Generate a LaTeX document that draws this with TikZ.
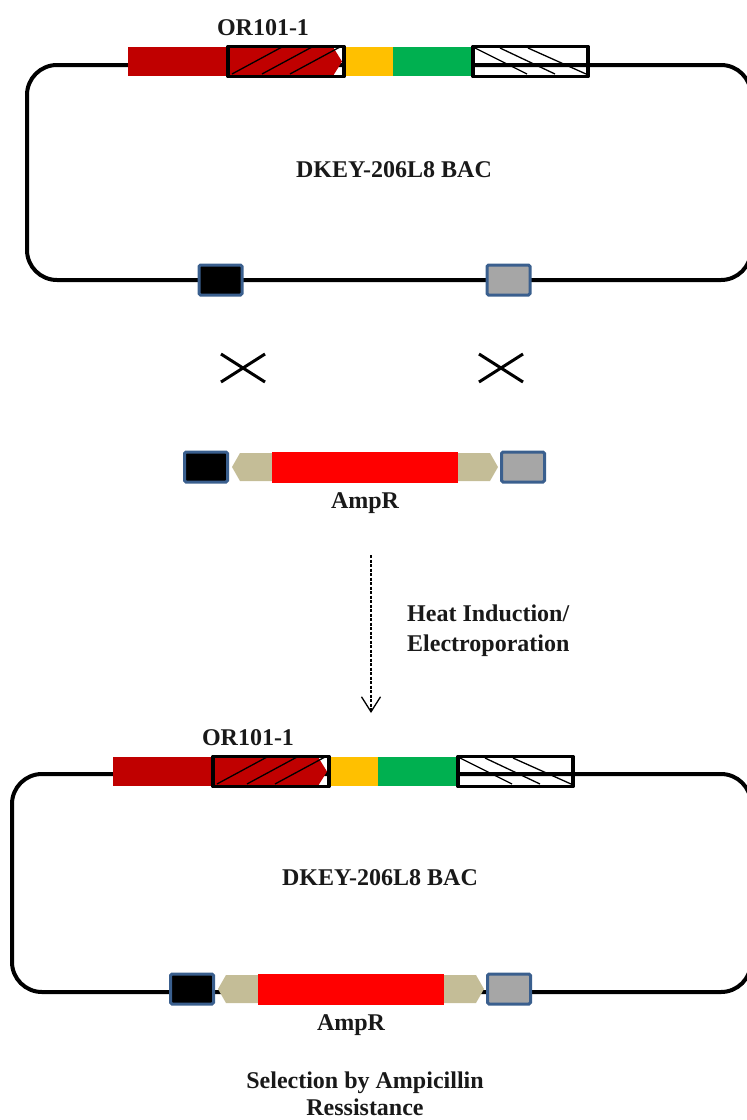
\documentclass[tikz,border=0pt]{standalone}
\usepackage{fontspec}
\setmainfont{Liberation Serif}
\usetikzlibrary{arrows.meta}
\definecolor{dred}{HTML}{C00000}
\definecolor{yel}{HTML}{FFC000}
\definecolor{grn}{HTML}{00B050}
\definecolor{ampred}{HTML}{FF0000}
\definecolor{tan}{HTML}{C4BD97}
\definecolor{sgray}{HTML}{A6A6A6}
\definecolor{sqblue}{HTML}{3A5F8E}
\tikzset{
  lbl/.style={font=\bfseries\fontsize{24}{30}\selectfont, inner sep=0pt, text=black!90},
  bacloop/.style={line width=4pt, rounded corners=30pt},
  boxline/.style={draw=black, line width=3.5pt, line join=round, inner sep=0pt},
  sq/.style={draw=sqblue, line width=3pt, rounded corners=1.5pt, minimum width=43pt, minimum height=30pt, inner sep=0pt},
  hatchline/.style={line width=1.3pt},
  xline/.style={line width=3pt},
}
\newcommand\orstrip[3]{%
\begin{scope}[shift={(#2,#3)}]
  \fill[dred] (0,0) rectangle (100,29);
  \fill[dred] (100,0) -- (205,0) -- (214,14.5) -- (205,29) -- (100,29) -- cycle;
  \draw[hatchline] (104,27) -- (154,0);
  \draw[hatchline] (134,27) -- (184,0);
  \draw[hatchline] (162,27) -- (212,0);
  \fill[yel] (216,0) rectangle (265,29);
  \fill[grn] (265,0) rectangle (345,29);
  \draw[hatchline] (347,1) -- (399,27);
  \draw[hatchline] (372,1) -- (427,27);
  \draw[hatchline] (400,1) -- (458,27);
  \node[boxline, minimum width=116pt, minimum height=30pt] (#1box) at (158,14.5) {};
  \node[boxline, minimum width=115pt, minimum height=30pt] (#1wbox) at (402.5,14.5) {};
  \node[lbl] (#1lab) at (135,-19) {OR101-1};
\end{scope}}
\newcommand\cassette[3]{%
\begin{scope}[shift={(#2,#3)}]
  \fill[tan] (89,-14) -- (57,-14) -- (49,0) -- (57,14) -- (89,14) -- cycle;
  \fill[ampred] (89,-15.5) rectangle (275,15.5);
  \fill[tan] (275,-14) -- (307,-14) -- (315,0) -- (307,14) -- (275,14) -- cycle;
  \node[sq, fill=black] (#1blk) at (23,0) {};
  \node[sq, fill=sgray] (#1gry) at (340,0) {};
  \node[lbl] (#1amp) at (182,36) {AmpR};
\end{scope}}
\begin{document}
\begin{tikzpicture}[x=1pt,y=-1pt]
\useasboundingbox (0,0) rectangle (747,1120);
\clip (0,0) rectangle (747,1120);
% top BAC
\draw[bacloop] (27,65) rectangle (751,280);
\orstrip{t}{128}{47}
\node[lbl] (tbac) at (394,170) {DKEY-206L8 BAC};
\node[sq, fill=black] (tm1) at (220.5,280) {};
\node[sq, fill=sgray] (tm2) at (508.5,280) {};
% crossover marks
\coordinate (x1a) at (221,354); \coordinate (x1b) at (265,382);
\coordinate (x1c) at (221,382); \coordinate (x1d) at (265,354);
\draw[xline] (x1a) -- (x1b);
\draw[xline] (x1c) -- (x1d);
\coordinate (x2a) at (479,354); \coordinate (x2b) at (523,382);
\coordinate (x2c) at (479,382); \coordinate (x2d) at (523,354);
\draw[xline] (x2a) -- (x2b);
\draw[xline] (x2c) -- (x2d);
% cassette
\cassette{c}{183}{467}
% arrow
\coordinate (a1) at (371,555);
\coordinate (a2) at (371,713);
\draw[line width=1.3pt, dash pattern=on 3pt off 1.5pt, -{Straight Barb[length=15pt,width=19pt,line width=1.3pt]}] (a1) -- (a2);
\node[lbl, align=left, anchor=west] (heat) at (407,631) {Heat Induction/\\Electroporation};
% bottom BAC
\draw[bacloop] (12,774) rectangle (751,992);
\orstrip{b}{113}{757}
\node[lbl] (bbac) at (380,878) {DKEY-206L8 BAC};
\cassette{bc}{169}{989}
\node[lbl, anchor=base] (sel1) at (365,1088) {Selection by Ampicillin};
\node[lbl, anchor=base] (sel2) at (365,1115) {Ressistance};
\end{tikzpicture}
\end{document}
